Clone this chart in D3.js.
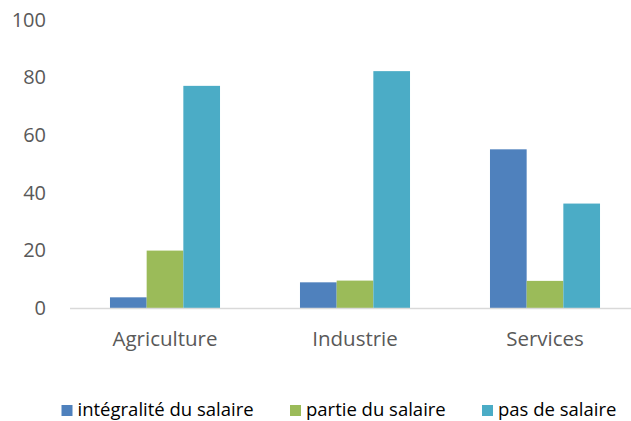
<!DOCTYPE html>
<html>
<head>
<meta charset="utf-8">
<script src="https://cdn.jsdelivr.net/npm/d3@7"></script>
<style>
  body { margin: 0; background: #fff; overflow: hidden; }
  text { font-family: "Open Sans", sans-serif; fill: #595959; }
</style>
</head>
<body>
<svg id="chart"></svg>
<script>
const categories = ["Agriculture", "Industrie", "Services"];
const seriesNames = ["intégralité du salaire", "partie du salaire", "pas de salaire"];
const integralite = [3.7, 8.9, 55];
const partie = [19.9, 9.5, 9.4];
const pasDeSalaire = [77, 82.1, 36.2];
const yTicks = [0, 20, 40, 60, 80, 100];

const colors = ["#4F81BD", "#9BBB59", "#4BACC6"];
const seriesValues = [integralite, partie, pasDeSalaire];

const width = 631, height = 421;
const margin = { top: 19.5, right: -9, bottom: 113, left: 70 };

const svg = d3.select("#chart")
  .attr("width", width)
  .attr("height", height)
  .style("display", "block");

const x0 = d3.scaleBand()
  .domain(categories)
  .range([margin.left, width - margin.right])
  .padding(0);

const x1 = d3.scaleBand()
  .domain(d3.range(seriesNames.length))
  .range([0, x0.bandwidth()])
  .paddingInner(0)
  .paddingOuter(1.09);

const y = d3.scaleLinear()
  .domain([0, 100])
  .range([height - margin.bottom, margin.top]);

// y tick labels (no axis line, no gridlines)
svg.append("g")
  .selectAll("text")
  .data(yTicks)
  .enter()
  .append("text")
  .attr("x", 46)
  .attr("y", d => y(d))
  .attr("dy", "0.35em")
  .attr("text-anchor", "end")
  .style("font-size", "20px")
  .text(d => d);

// bars
const groups = svg.append("g")
  .selectAll("g")
  .data(categories)
  .enter()
  .append("g")
  .attr("transform", d => `translate(${x0(d)},0)`);

groups.selectAll("rect")
  .data((d, i) => seriesValues.map((vals, s) => ({ s, v: vals[i] })))
  .enter()
  .append("rect")
  .attr("x", d => x1(d.s))
  .attr("width", x1.bandwidth())
  .attr("y", d => y(d.v))
  .attr("height", d => y(0) - y(d.v))
  .attr("fill", d => colors[d.s]);

// category axis
svg.append("line")
  .attr("x1", margin.left)
  .attr("x2", width - margin.right)
  .attr("y1", y(0) + 0.5)
  .attr("y2", y(0) + 0.5)
  .attr("stroke", "#D9D9D9")
  .attr("stroke-width", 1.5);

svg.append("g")
  .selectAll("text")
  .data(categories)
  .enter()
  .append("text")
  .attr("x", d => x0(d) + x0.bandwidth() / 2)
  .attr("y", 346)
  .attr("text-anchor", "middle")
  .style("font-size", "20.5px")
  .text(d => d);

// legend
const legendX = [61.5, 290, 482];
const legend = svg.append("g")
  .selectAll("g")
  .data(seriesNames)
  .enter()
  .append("g")
  .attr("transform", (d, i) => `translate(${legendX[i]},405)`);

legend.append("rect")
  .attr("width", 11)
  .attr("height", 11)
  .attr("fill", (d, i) => colors[i]);

legend.append("text")
  .attr("x", 16)
  .attr("y", 11)
  .style("font-size", "18.5px")
  .style("fill", "#000")
  .text(d => d);
</script>
</body>
</html>
